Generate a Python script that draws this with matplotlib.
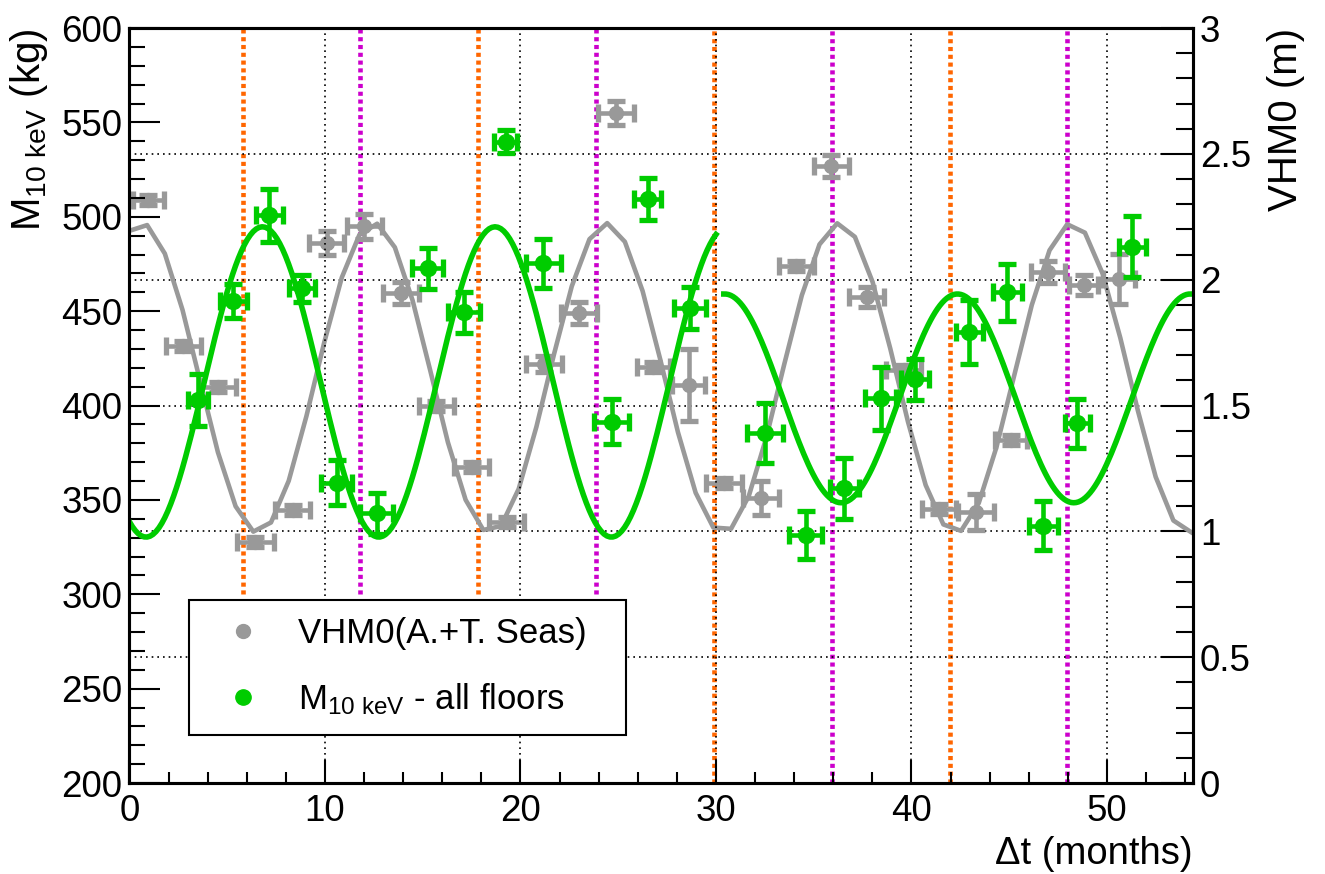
import numpy as np
import matplotlib
matplotlib.use("Agg")
import matplotlib.pyplot as plt
from matplotlib.lines import Line2D
from matplotlib.ticker import MultipleLocator

plt.rcParams['font.family'] = ['Liberation Sans', 'DejaVu Sans']
plt.rcParams['mathtext.fontset'] = 'custom'
plt.rcParams['mathtext.rm'] = 'Liberation Sans'
plt.rcParams['mathtext.it'] = 'Liberation Sans:italic'
plt.rcParams['mathtext.bf'] = 'Liberation Sans:bold'

# VHM0 wave height (right axis, m)
months_gray = [0.97, 2.76, 4.55, 6.44, 8.34, 10.08, 12.02, 13.90, 15.70, 17.50,
               19.30, 21.20, 23.00, 24.90, 26.80, 28.60, 30.40, 32.30, 34.10, 35.90,
               37.70, 39.60, 41.40, 43.30, 45.10, 46.96, 48.80, 50.60]
vhm0 = [2.317, 1.736, 1.574, 0.958, 1.085, 2.146, 2.213, 1.947, 1.498, 1.256,
        1.037, 1.665, 1.868, 2.662, 1.653, 1.581, 1.192, 1.132, 2.054, 2.452,
        1.931, 1.641, 1.089, 1.077, 1.363, 2.030, 1.979, 2.003]
vhm0_xerr = [0.80, 0.88, 0.90, 0.93, 0.92, 0.90, 0.90, 0.92, 0.88, 0.90,
             0.90, 0.92, 0.92, 0.93, 0.86, 0.84, 0.92, 0.92, 0.90, 0.90,
             0.90, 0.90, 0.88, 0.92, 0.82, 0.87, 0.75, 0.82]
vhm0_yerr = [0.02, 0.02, 0.02, 0.02, 0.02, 0.047, 0.05, 0.045, 0.02, 0.02,
             0.02, 0.03, 0.045, 0.048, 0.02, 0.143, 0.02, 0.067, 0.02, 0.043,
             0.04, 0.02, 0.02, 0.07, 0.02, 0.045, 0.04, 0.10]

# M_10keV (left axis, kg)
months_m10 = [3.50, 5.31, 7.15, 8.81, 10.60, 12.64, 15.25, 17.13, 19.24, 21.17,
              24.66, 26.50, 28.67, 32.51, 34.60, 36.56, 38.42, 40.18, 42.96, 44.90,
              46.74, 48.48, 51.30]
m10 = [402.9, 455.5, 500.9, 462.1, 359.1, 342.9, 472.7, 449.4, 539.8, 475.3,
       391.4, 509.4, 451.8, 385.6, 331.4, 356.1, 403.8, 413.9, 438.8, 460.0,
       336.3, 390.6, 484.2]
m10_xerr = [0.52, 0.69, 0.69, 0.66, 0.80, 0.84, 0.79, 0.82, 0.58, 0.88,
            0.88, 0.67, 0.83, 0.92, 0.84, 0.73, 0.80, 0.70, 0.69, 0.75,
            0.73, 0.65, 0.71]
m10_yerr = [14, 9, 14, 7, 12, 11, 11, 11, 6, 13,
            12, 11, 11, 16, 12.5, 16, 16.5, 11, 17, 15,
            13, 13, 16]

# sinusoidal fit parameters
period = 11.9
vhm0_mean, vhm0_amp, vhm0_peak = 1.61, 0.615, 0.6
m10_fit1 = {"mean": 412.5, "amp": 82.2, "peak": 6.8, "range": (0.0, 30.0)}
m10_fit2 = {"mean": 403.8, "amp": 55.3, "peak": 42.35, "range": (30.4, 54.3)}

# 6-month markers
orange_lines = [5.80, 17.85, 29.90, 41.95]
magenta_lines = [11.80, 23.85, 35.95, 47.95]

GRAY = '#999999'
GREEN = '#00CC00'
ORANGE = '#FF6600'
MAGENTA = '#CC00CC'

fig = plt.figure(figsize=(13.25, 8.74), dpi=100)
ax = fig.add_axes([0.0977, 0.1041, 0.8027, 0.8638])
ax2 = ax.twinx()
ax.set_zorder(ax2.get_zorder() + 1)
ax.patch.set_visible(False)

ax.set_xlim(0, 54.4)
ax.set_ylim(200, 600)
ax2.set_ylim(0, 3)

# grid
grid_style = dict(color='black', linestyle=(0, (1.0, 2.4)), linewidth=1.2)
ax2.grid(axis='y', which='major', **grid_style)
ax.grid(axis='x', which='major', **grid_style)

# vertical markers (first ones stop at 300 kg)
for x in orange_lines + magenta_lines:
    c = ORANGE if x in orange_lines else MAGENTA
    ymin = 0.25 if x < 25 else 0.0
    ax2.axvline(x, ymin=ymin, ymax=1, color=c, lw=3.3,
                linestyle=(0, (0.9, 0.8)), zorder=1.5)

# VHM0
t = np.linspace(0, 54.3, 61)
ax2.plot(t, vhm0_mean + vhm0_amp * np.cos(2 * np.pi * (t - vhm0_peak) / period),
         color=GRAY, lw=3.3, zorder=2)
ax2.errorbar(months_gray, vhm0, xerr=vhm0_xerr, yerr=vhm0_yerr, fmt='o',
             color=GRAY, ms=10, elinewidth=3.3, capsize=6.5, capthick=3.8, zorder=3)

# M10keV
for f in (m10_fit1, m10_fit2):
    tt = np.linspace(f["range"][0], f["range"][1], 200)
    ax.plot(tt, f["mean"] + f["amp"] * np.cos(2 * np.pi * (tt - f["peak"]) / period),
            color=GREEN, lw=4.0, zorder=2)
ax.errorbar(months_m10, m10, xerr=m10_xerr, yerr=m10_yerr, fmt='o',
            color=GREEN, ms=11.5, elinewidth=3.3, capsize=6.5, capthick=3.8, zorder=3)

# ticks
ax.xaxis.set_major_locator(MultipleLocator(10))
ax.xaxis.set_minor_locator(MultipleLocator(2))
ax.yaxis.set_major_locator(MultipleLocator(50))
ax.yaxis.set_minor_locator(MultipleLocator(10))
ax2.yaxis.set_major_locator(MultipleLocator(0.5))
ax2.yaxis.set_minor_locator(MultipleLocator(0.1))

ax.tick_params(axis='x', which='both', direction='in', top=False, bottom=True,
               labelsize=26.5, width=1.5, pad=8)
ax.tick_params(axis='x', which='major', length=16.5)
ax.tick_params(axis='x', which='minor', length=8)
ax.tick_params(axis='y', which='both', direction='in', left=True, right=False,
               labelsize=26.5, width=1.5, pad=5)
ax.tick_params(axis='y', which='major', length=22.3)
ax.tick_params(axis='y', which='minor', length=11.5)
ax2.tick_params(axis='y', which='both', direction='in', right=True, left=False,
                labelsize=26.5, width=1.5, pad=5)
ax2.tick_params(axis='y', which='major', length=23)
ax2.tick_params(axis='y', which='minor', length=12)

ax2.yaxis.set_major_formatter(plt.FuncFormatter(lambda v, p: f"{v:g}"))

for a in (ax, ax2):
    for s in a.spines.values():
        s.set_linewidth(2.2)

# labels
ax.set_ylabel(r'$\mathrm{M}_{\mathrm{10\ keV}}$ (kg)', fontsize=29, loc='top')
ax.yaxis.set_label_coords(-0.075, 1.0)
ax2.set_ylabel('VHM0 (m)', fontsize=29, loc='top')
ax2.yaxis.set_label_coords(1.07, 1.0)
ax.set_xlabel('\u0394t (months)', fontsize=27.5, loc='right')
ax.xaxis.set_label_coords(1.0, -0.07)

# legend
handles = [Line2D([], [], marker='o', ls='none', color=GRAY, ms=10),
           Line2D([], [], marker='o', ls='none', color=GREEN, ms=11)]
labels = ['VHM0(A.+T. Seas)', r'$\mathrm{M}_{\mathrm{10\ keV}}$ - all floors']
leg = ax.legend(handles, labels, loc='upper left',
                bbox_to_anchor=(0.0559, 0.053, 0.411, 0.1894), mode='expand',
                borderaxespad=0, fontsize=25, frameon=True, fancybox=False,
                framealpha=1, edgecolor='black', borderpad=0.5,
                handlelength=2.1, handletextpad=0.55, labelspacing=0.9)
leg.get_frame().set_linewidth(1.5)

fig.savefig('out.png', dpi=100)
